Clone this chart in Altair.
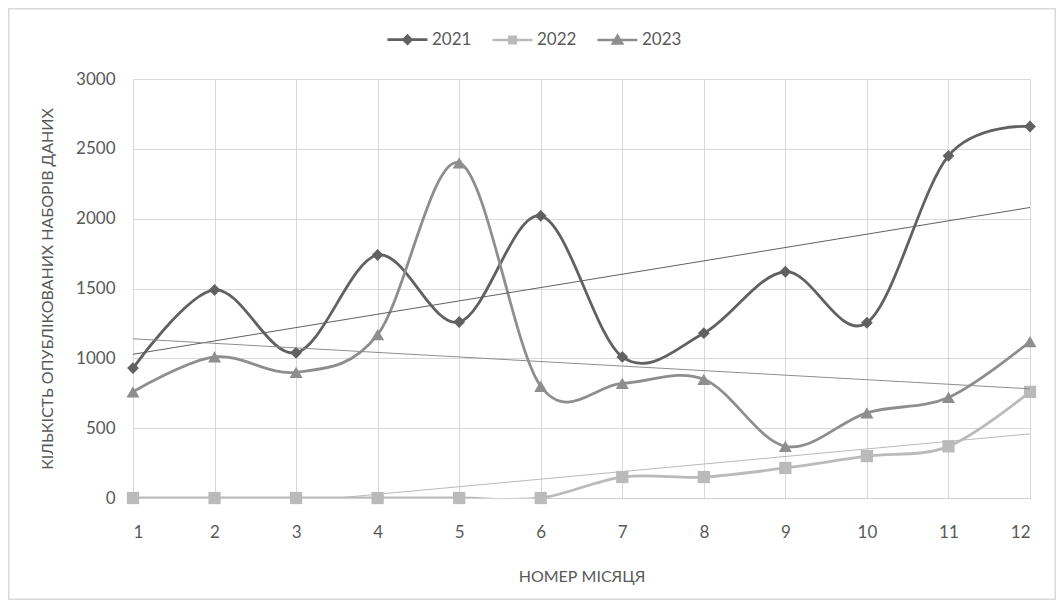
import altair as alt
import pandas as pd

months = list(range(1, 13))
years = ["2021", "2022", "2023"]
v2021 = [930, 1490, 1040, 1740, 1260, 2020, 1010, 1180, 1620, 1255, 2450, 2660]
v2022 = [0, 0, 0, 0, 0, 0, 150, 150, 215, 300, 370, 760]
v2023 = [760, 1010, 900, 1170, 2400, 800, 820, 850, 370, 610, 720, 1120]
y_ticks = [0, 500, 1000, 1500, 2000, 2500, 3000]

colors = ["#616161", "#bababa", "#8e8e8e"]
shapes = ["diamond", "square", "triangle-up"]
marker_sizes = [140, 150, 170]
legend_paths = [
    "M-1,0L1,0M0,-0.2L0.2,0L0,0.2L-0.2,0Z",
    "M-1,0L1,0M-0.16,-0.16L0.16,-0.16L0.16,0.16L-0.16,0.16Z",
    "M-1,0L1,0M0,-0.21L0.23,0.17L-0.23,0.17Z",
]

rows = []
for yr, vals in zip(years, [v2021, v2022, v2023]):
    for m, v in zip(months, vals):
        rows.append({"month": m, "value": v, "year": yr})
df = pd.DataFrame(rows)

FONT = "Lato"
TXT = "#595959"

x_enc = alt.X(
    "month:Q",
    scale=alt.Scale(domain=[1, 12], nice=False, zero=False),
    axis=alt.Axis(
        values=months, title="НОМЕР МІСЯЦЯ", format="d",
        grid=True, gridColor="#d9d9d9", ticks=False, tickSize=0,
        domainColor="#d0d0d0", domainWidth=1.2,
        labelPadding=26, labelFont=FONT, labelFontSize=17, labelColor=TXT,
        titleFont=FONT, titleFontSize=16, titleFontWeight="normal", titleColor=TXT,
        titleX=448.5, titleY=78, titleBaseline="middle",
    ),
)
y_enc = alt.Y(
    "value:Q",
    scale=alt.Scale(domain=[0, 3000], nice=False),
    axis=alt.Axis(
        values=y_ticks, title="КІЛЬКІСТЬ ОПУБЛІКОВАНИХ НАБОРІВ ДАНИХ", format="d",
        grid=True, gridColor="#d9d9d9", ticks=False, tickSize=0, domain=False,
        labelPadding=18, labelFont=FONT, labelFontSize=17, labelColor=TXT,
        titleFont=FONT, titleFontSize=16, titleFontWeight="normal", titleColor=TXT,
        titleX=-86, titleY=209.5, titleBaseline="middle", titleAngle=-90,
    ),
)

leg = alt.Legend(
    orient="none", legendX=253, legendY=-61, direction="horizontal",
    title=None, symbolSize=1600, symbolStrokeWidth=2.6, symbolOpacity=1,
    labelFont=FONT, labelFontSize=17, labelColor=TXT,
    labelOffset=3, columnPadding=15, padding=0,
)

base = alt.Chart(df)

frame = alt.Chart(pd.DataFrame({"a": [0]})).mark_rect(
    filled=False, stroke="#d9d9d9", strokeWidth=1.5, clip=False
).encode(
    x=alt.value(-124.25), x2=alt.value(922.25),
    y=alt.value(-70.25), y2=alt.value(520.25),
)

layers = [frame]
for i, (yr, col) in enumerate(zip(years, colors)):
    sub = base.transform_filter(alt.datum.year == yr)
    line = sub.mark_line(interpolate="cardinal", strokeWidth=2.8, clip=True, color=col)
    if i == 0:
        line = line.encode(x=x_enc, y=y_enc)
    else:
        line = line.encode(x="month:Q", y="value:Q")
    layers.append(line)
for yr, col, shp, sz in zip(years, colors, shapes, marker_sizes):
    sub = base.transform_filter(alt.datum.year == yr)
    layers.append(
        sub.mark_point(filled=True, opacity=1, shape=shp, size=sz, color=col)
        .encode(x="month:Q", y="value:Q")
    )
for yr, col in zip(years, colors):
    sub = base.transform_filter(alt.datum.year == yr)
    layers.append(
        sub.transform_regression("month", "value")
        .mark_line(strokeWidth=1, clip=True, color=col)
        .encode(x="month:Q", y="value:Q")
    )

legend_layer = base.mark_point(filled=True, opacity=0).encode(
    x="month:Q", y="value:Q",
    color=alt.Color("year:N", scale=alt.Scale(domain=years, range=colors), legend=leg),
    stroke=alt.Stroke("year:N", scale=alt.Scale(domain=years, range=colors), legend=leg),
    shape=alt.Shape("year:N", scale=alt.Scale(domain=years, range=legend_paths), legend=leg),
)
layers.append(legend_layer)

chart = alt.layer(*layers).properties(
    width=897, height=419,
    autosize=alt.AutoSizeParams(type="none"),
    padding={"left": 125, "top": 71, "right": 26, "bottom": 102},
).configure_view(strokeWidth=0)

chart.save("out.html", embed_options={"renderer": "svg", "actions": False})
